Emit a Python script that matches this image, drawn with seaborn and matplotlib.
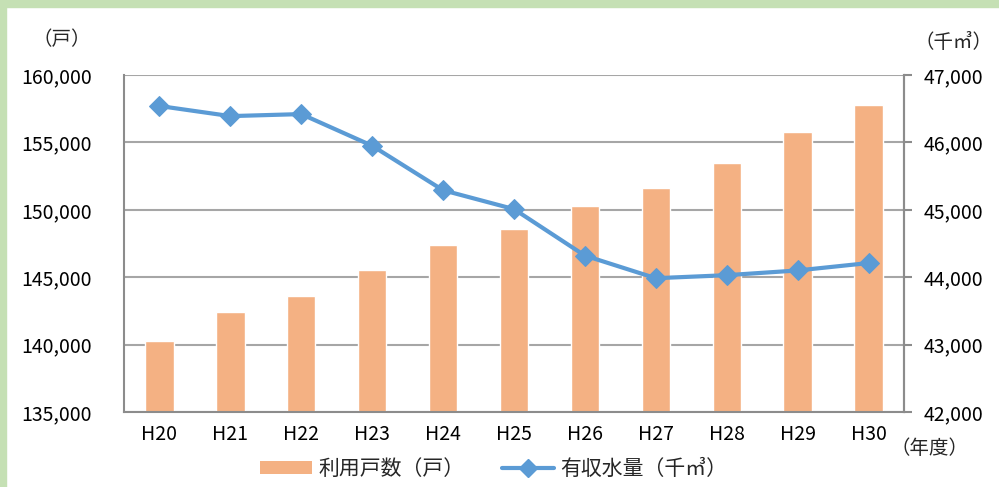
import matplotlib
matplotlib.use("Agg")
import matplotlib.pyplot as plt
import seaborn as sns
import pandas as pd
from matplotlib.lines import Line2D
from matplotlib.patches import Patch, Rectangle
from matplotlib.ticker import FuncFormatter

years = ["H20", "H21", "H22", "H23", "H24", "H25", "H26", "H27", "H28", "H29", "H30"]
households = [140300, 142400, 143600, 145500, 147400, 148600, 150250, 151600, 153500, 155800, 157800]
water = [46540, 46390, 46420, 45950, 45290, 45010, 44320, 43985, 44030, 44100, 44210]
left_ticks = [135000, 140000, 145000, 150000, 155000, 160000]
right_ticks = [42000, 43000, 44000, 45000, 46000, 47000]

bar_label = "利用戸数（戸）"
line_label = "有収水量（千㎥）"

sns.set_theme(style="white")
plt.rcParams["font.family"] = ["Noto Sans CJK JP", "DejaVu Sans"]

df = pd.DataFrame({"year": years, "households": households, "water": water})

fig = plt.figure(figsize=(9.99, 4.87), dpi=100)
# light green frame (top and left)
fig.patches.append(Rectangle((0, 1 - 7 / 487), 1, 7 / 487, transform=fig.transFigure,
                             color="#C5E0B4", zorder=0))
fig.patches.append(Rectangle((0, 0), 6 / 999, 1, transform=fig.transFigure,
                             color="#C5E0B4", zorder=0))

ax = fig.add_axes([124 / 999, 1 - 412 / 487, (904 - 124) / 999, (412 - 75) / 487])
sns.barplot(data=df, x="year", y="households", color="#F4B183", saturation=1,
            width=0.4, ax=ax, zorder=2)
ax.set_ylim(135000, 160000)
ax.set_xlim(-0.5, len(years) - 0.5)
ax.set_yticks(left_ticks)
ax.yaxis.set_major_formatter(FuncFormatter(lambda v, p: f"{int(v):,}"))
ax.grid(axis="y", color="#A6A6A6", linewidth=1.5, zorder=1)
ax.set_axisbelow(True)
ax.set_xlabel("")
ax.set_ylabel("")
ax.spines["top"].set_visible(False)
for s in ["left", "bottom", "right"]:
    ax.spines[s].set_color("#8C8C8C")
    ax.spines[s].set_linewidth(1.5)
ax.tick_params(axis="y", length=0, labelsize=14, colors="#000000", pad=23)
ax.tick_params(axis="x", length=0, labelsize=14, colors="#000000", pad=9)

ax2 = ax.twinx()
sns.lineplot(data=df, x="year", y="water", color="#5B9BD5", linewidth=3,
             marker="D", markersize=10, markeredgecolor="#5B9BD5", ax=ax2, sort=False)
ax2.set_ylim(42000, 47000)
ax2.set_yticks(right_ticks)
ax2.yaxis.set_major_formatter(FuncFormatter(lambda v, p: f"{int(v):,}"))
ax2.set_ylabel("")
ax2.set_xlabel("")
ax2.spines["top"].set_visible(False)
ax2.spines["left"].set_visible(False)
ax2.spines["bottom"].set_visible(False)
ax2.spines["right"].set_color("#8C8C8C")
ax2.spines["right"].set_linewidth(1.5)
ax2.tick_params(axis="y", direction="out", length=6, width=1.5, color="#8C8C8C",
                labelsize=14, labelcolor="#000000", pad=8)
ax2.grid(False)
ax.set_xlim(-0.5, len(years) - 0.5)

fig.text(62 / 999, 1 - 40 / 487, "（戸）", fontsize=14, ha="center", va="center")
fig.text(954 / 999, 1 - 42 / 487, "（千㎥）", fontsize=14, ha="center", va="center")
fig.text(930 / 999, 1 - 449 / 487, "（年度）", fontsize=14, ha="center", va="center")

handles = [Patch(facecolor="#F4B183", edgecolor="none"),
           Line2D([0], [0], color="#5B9BD5", linewidth=3, marker="D", markersize=9)]
fig.legend(handles, [bar_label, line_label], loc="center", bbox_to_anchor=(0.494, 1 - 469 / 487),
           ncol=2, frameon=False, fontsize=15, handlelength=2.5, columnspacing=1.8,
           handletextpad=0.3, handleheight=0.55)

fig.savefig("out.png", dpi=100)
